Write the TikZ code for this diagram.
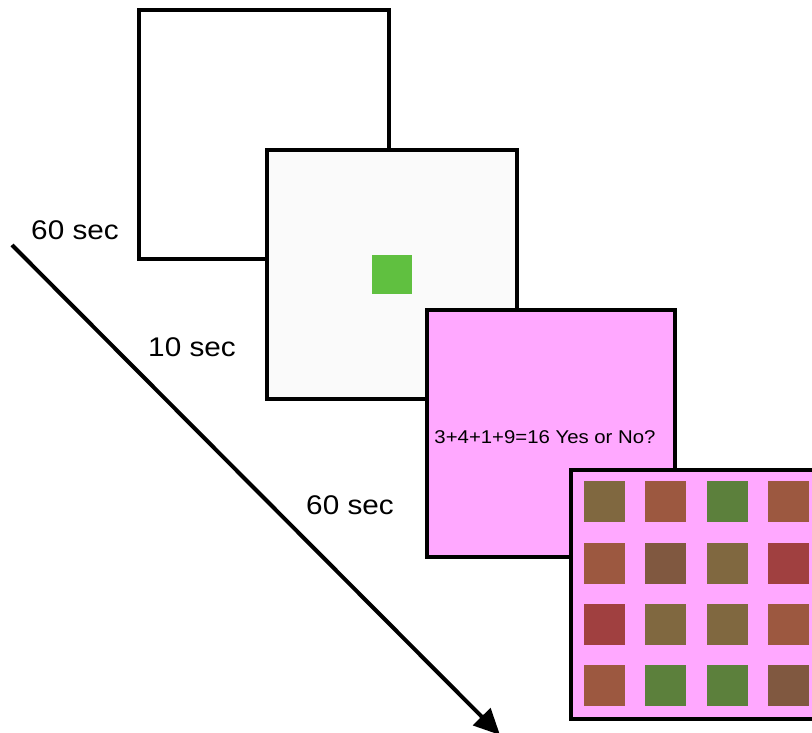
\documentclass[tikz,border=0pt]{standalone}
\usepackage{fontspec}
\setmainfont{Liberation Sans}
\usetikzlibrary{arrows.meta}
\definecolor{pinkbg}{HTML}{FFA8FF}
\definecolor{offwhite}{HTML}{FAFAFA}
\definecolor{stimgreen}{HTML}{60C040}
\definecolor{cOlive}{HTML}{806840}
\definecolor{cRust}{HTML}{9C5840}
\definecolor{cGreen}{HTML}{5C803C}
\definecolor{cBrown}{HTML}{805840}
\definecolor{cRed}{HTML}{A04040}
\tikzset{
  screen/.style={draw=black, line width=3.2pt, minimum width=250pt, minimum height=249pt, anchor=north west, inner sep=0pt, outer sep=0pt},
  tile/.style={minimum width=41pt, minimum height=41pt, anchor=north west, inner sep=0pt, outer sep=0pt},
  lbl/.style={font=\fontsize{27}{30}\selectfont, inner sep=0pt},
}
\begin{document}
\begin{tikzpicture}[x=1pt,y=-1pt]
\useasboundingbox (0,0) rectangle (812,733);
\begin{scope}
\clip (0,0) rectangle (812,733);
\node[screen, fill=white] (s1) at (139,10) {};
\node[screen, fill=offwhite] (s2) at (267,150) {};
\node[tile, fill=stimgreen, minimum width=40pt, minimum height=39pt] (fix) at (372,255) {};
\node[screen, fill=pinkbg, minimum width=248pt, minimum height=247pt] (s3) at (427,310) {};
\node[font=\fontsize{18.5}{20}\selectfont, inner sep=0pt] (q) at (545,437) {\scalebox{1.1}[1]{3+4+1+9=16 Yes or No?}};
\node[screen, fill=pinkbg] (s4) at (571,470) {};
% tiles
\foreach \c [count=\i from 0] in {cOlive,cRust,cGreen,cRust}
  \node[tile, fill=\c] (t1\i) at ({584+61.3*\i},481) {};
\foreach \c [count=\i from 0] in {cRust,cBrown,cOlive,cRed}
  \node[tile, fill=\c] (t2\i) at ({584+61.3*\i},542.5) {};
\foreach \c [count=\i from 0] in {cRed,cOlive,cOlive,cRust}
  \node[tile, fill=\c] (t3\i) at ({584+61.3*\i},604) {};
\foreach \c [count=\i from 0] in {cRust,cGreen,cGreen,cBrown}
  \node[tile, fill=\c] (t4\i) at ({584+61.3*\i},665) {};
\coordinate (a0) at (12,245);
\coordinate (a1) at (500,735);
\draw[line width=4pt, -{Triangle[length=26pt,width=24pt]}] (a0) -- (a1);
\end{scope}
\node[lbl] (l1) at (75,230) {\scalebox{1.1}[1]{60 sec}};
\node[lbl] (l2) at (192,347) {\scalebox{1.1}[1]{10 sec}};
\node[lbl] (l3) at (350,505) {\scalebox{1.1}[1]{60 sec}};
\end{tikzpicture}
\end{document}
